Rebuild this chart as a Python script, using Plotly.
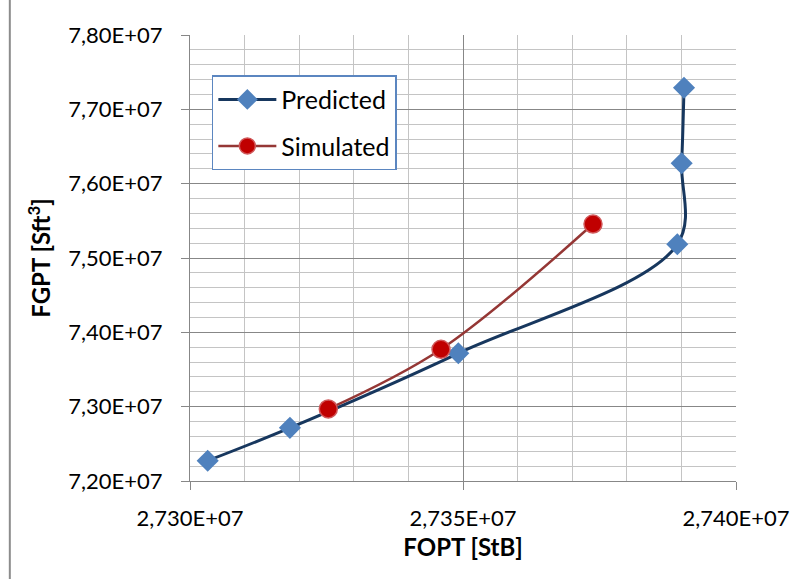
import plotly.graph_objects as go

# Field totals: cumulative oil (FOPT) vs cumulative gas (FGPT)
predicted_fopt = [27303240, 27318300, 27349140, 27389250, 27390050, 27390480]
predicted_fgpt = [72273000, 72715000, 73718000, 75184000, 76274000, 77291000]

simulated_fopt = [27325330, 27345970, 27373810]
simulated_fgpt = [72969000, 73772000, 75457000]

x_ticks = [27300000, 27350000, 27400000]
y_ticks = [72000000, 73000000, 74000000, 75000000, 76000000, 77000000, 78000000]


def sci_comma(v, digits):
    return f"{v:.{digits}E}".replace(".", ",")


FONT = "Lato, 'Open Sans', sans-serif"
MAJOR = "#878787"
MINOR = "#C4C4C4"

fig = go.Figure()

fig.add_trace(go.Scatter(
    x=predicted_fopt, y=predicted_fgpt, name="Predicted",
    mode="lines+markers", legendgroup="p",
    line=dict(color="#17375E", width=3, shape="spline", smoothing=1),
    marker=dict(symbol="diamond", size=17, color="#4F81BD",
                line=dict(color="#4F81BD", width=0)),
))
fig.add_trace(go.Scatter(
    x=simulated_fopt, y=simulated_fgpt, name="Simulated",
    mode="lines+markers", legendgroup="s",
    line=dict(color="#953735", width=2.5, shape="spline", smoothing=1),
    marker=dict(symbol="circle", size=18, color="#C00000",
                line=dict(color="#D0585A", width=1.5)),
))

fig.update_layout(
    width=803, height=579,
    margin=dict(l=190, r=67, t=35, b=98),
    paper_bgcolor="white", plot_bgcolor="white",
    font=dict(family=FONT, size=22, color="#000000"),
    showlegend=True,
    legend=dict(
        x=0.040, y=0.910, xanchor="left", yanchor="top",
        bgcolor="white", bordercolor="#5B86C0", borderwidth=1.5,
        font=dict(family=FONT, size=25, color="#000000"),
        traceorder="grouped", tracegroupgap=11,
        itemwidth=58,
    ),
)

fig.update_xaxes(
    range=[27300000, 27400000],
    tickvals=x_ticks, ticktext=[sci_comma(v, 3) for v in x_ticks],
    ticks="outside", ticklen=8, tickcolor=MAJOR, tickwidth=1,
    ticklabelstandoff=10,
    showline=True, linecolor=MAJOR, linewidth=1,
    showgrid=True, gridcolor=MAJOR, gridwidth=1,
    minor=dict(dtick=10000, tick0=27300000, showgrid=True,
               gridcolor=MINOR, gridwidth=1, ticks=""),
    zeroline=False,
    title=dict(text="<b>FOPT [StB]</b>", font=dict(family=FONT, size=24),
               standoff=8),
)
fig.update_yaxes(
    range=[72000000, 78000000],
    tickvals=y_ticks, ticktext=[sci_comma(v, 2) for v in y_ticks],
    ticks="outside", ticklen=8, tickcolor=MAJOR, tickwidth=1,
    ticklabelstandoff=14,
    showline=True, linecolor=MAJOR, linewidth=1,
    showgrid=True, gridcolor=MAJOR, gridwidth=1,
    minor=dict(dtick=200000, tick0=72000000, showgrid=True,
               gridcolor=MINOR, gridwidth=1, ticks=""),
    zeroline=False,
    title=dict(text="<b>FGPT [Sft<sup>3</sup>]</b>", font=dict(family=FONT, size=24),
               standoff=10),
)

# chart-area frame edge on the left
fig.add_shape(type="line", xref="paper", yref="paper",
              x0=-0.33, x1=-0.33, y0=-0.25, y1=1.1,
              line=dict(color="#8C8C8C", width=2))

fig.write_html("out.html")
